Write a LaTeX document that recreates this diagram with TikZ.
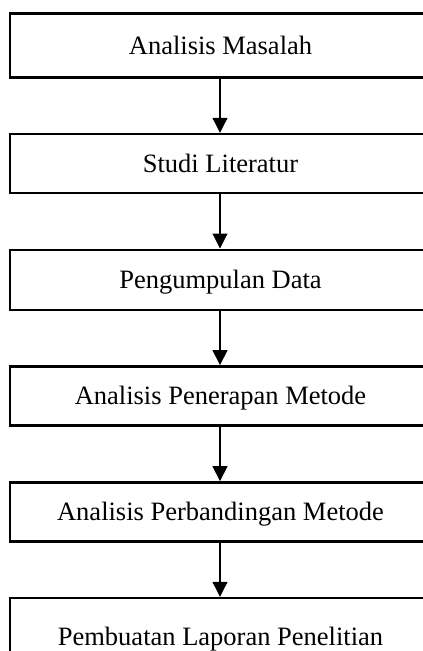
\documentclass[tikz,border=0pt]{standalone}
\usepackage{fontspec}
\setmainfont{Liberation Serif}
\usetikzlibrary{arrows.meta}
\begin{document}
\begin{tikzpicture}[x=1pt,y=-1pt,
  stepbox/.style={draw=black,line width=2.4pt,rectangle,minimum width=421pt,
    inner sep=0pt,text height=17.5pt,text depth=0pt,
    font=\fontsize{26.5pt}{30pt}\selectfont},
  conn/.style={draw=black,line width=1.1pt,-{Triangle[width=15pt,length=15pt]}}]
\useasboundingbox (0,0) rectangle (423,651);
\node[stepbox,minimum height=63.8pt] (b1) at (220.5,45.4) {Analisis Masalah};
\node[stepbox,minimum height=59pt] (b2) at (220.5,163.5) {Studi Literatur};
\node[stepbox,minimum height=60pt] (b3) at (220.5,279.7) {Pengumpulan Data};
\node[stepbox,minimum height=59pt] (b4) at (220.5,395.8) {Analisis Penerapan Metode};
\node[stepbox,minimum height=59pt] (b5) at (220.5,511.8) {Analisis Perbandingan Metode};
\node[stepbox,minimum height=78pt] (b6) at (220.5,637) {Pembuatan Laporan Penelitian};
\draw[conn] (b1.south -| 220,0) -- (b2.north -| 220,0);
\draw[conn] (b2.south -| 220,0) -- (b3.north -| 220,0);
\draw[conn] (b3.south -| 220,0) -- (b4.north -| 220,0);
\draw[conn] (b4.south -| 220,0) -- (b5.north -| 220,0);
\draw[conn] (b5.south -| 220,0) -- (b6.north -| 220,0);
\end{tikzpicture}
\end{document}
